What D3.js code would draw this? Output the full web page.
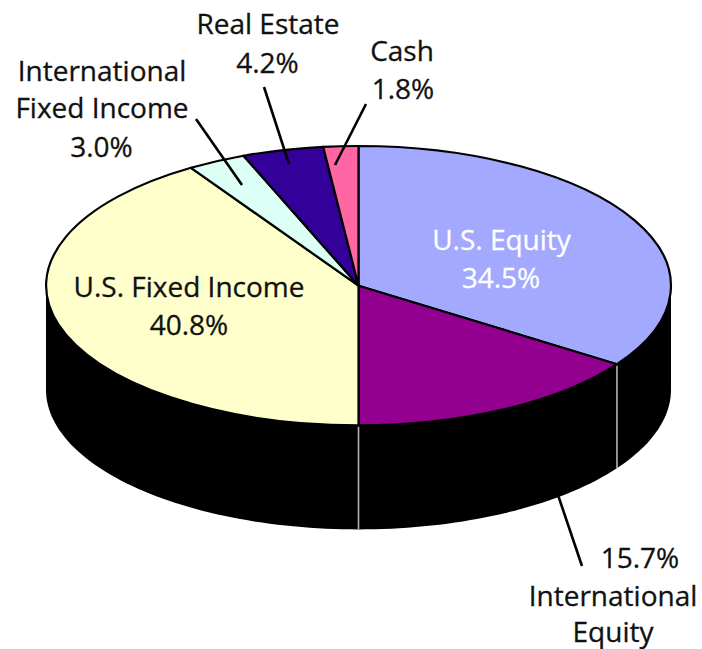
<!DOCTYPE html>
<html><head><meta charset="utf-8">
<script src="https://cdn.jsdelivr.net/npm/d3@7/dist/d3.min.js"></script>
<style>html,body{margin:0;padding:0;background:#fff}svg{display:block}
text{font-family:"Open Sans",sans-serif;font-size:28px;text-anchor:middle;stroke-width:.3px}</style>
</head><body><svg id="c" width="702" height="649"></svg>
<script>
const categories=["U.S. Equity","International Equity","U.S. Fixed Income","International Fixed Income","Real Estate","Cash"];
// Printed percentages appear in the labels; these are the slice sizes as drawn in the picture.
const drawnShares=[34.5,15.5,41.0,3.0,4.2,1.8];
const colors=["#a3a9ff","#93008f","#ffffcc","#dcfff6","#330099","#ff66a3"];
const cx=358.5,cy=285.7,rx=312.5,ry=139.7,depth=104;
const svg=d3.select("#c");
const pie=d3.pie().sort(null).value(d=>d)(drawnShares);
const arc=d3.arc().innerRadius(0).outerRadius(1);
const rimAngles=[pie[0].endAngle,pie[1].endAngle];

// side wall
const lower=d3.range(0,1.0001,1/120).map(t=>{const a=Math.PI*1.5-t*Math.PI;return [cx+rx*Math.sin(a),cy+depth-ry*Math.cos(a)]});
const wall=[[cx-rx,cy],...lower,[cx+rx,cy]];
svg.append("path").attr("d",d3.line()(wall)+"Z").attr("fill","#000");

// rim dividers
svg.selectAll("line.rim").data(rimAngles).join("line").attr("class","rim")
 .attr("x1",a=>cx+rx*Math.sin(a)).attr("x2",a=>cx+rx*Math.sin(a))
 .attr("y1",a=>cy-ry*Math.cos(a)+1).attr("y2",a=>cy-ry*Math.cos(a)+depth)
 .attr("stroke","#b4b4b4").attr("stroke-width",1.6);

// top face
const face=svg.append("g").attr("transform",`translate(${cx},${cy}) scale(${rx},${ry})`);
face.selectAll("path").data(pie).join("path").attr("d",arc)
 .attr("fill",(d,i)=>colors[i]).attr("stroke","#000").attr("stroke-width",2.2)
 .attr("stroke-linejoin","round").attr("vector-effect","non-scaling-stroke");

// leaders
const leaders=[[264,87,289,164],[366,104,335,165],[196,119,242,185],[558,495,582,566]];
svg.selectAll("line.lead").data(leaders).join("line").attr("class","lead")
 .attr("x1",d=>d[0]).attr("y1",d=>d[1]).attr("x2",d=>d[2]).attr("y2",d=>d[3])
 .attr("stroke","#000").attr("stroke-width",2.6);

// labels
const labelLines=[
 {x:501.5,y:250,t:"U.S. Equity",c:"#fff"},{x:501,y:288,t:"34.5%",c:"#fff"},
 {x:189,y:297,t:"U.S. Fixed Income"},{x:189,y:335,t:"40.8%"},
 {x:268,y:34,t:"Real Estate"},{x:267.5,y:73,t:"4.2%"},
 {x:402,y:61,t:"Cash"},{x:403,y:99,t:"1.8%"},
 {x:102,y:81,t:"International"},{x:102,y:118,t:"Fixed Income"},{x:101.5,y:157,t:"3.0%"},
 {x:640,y:568,t:"15.7%"},{x:613,y:606,t:"International"},{x:613,y:642,t:"Equity"}];
svg.selectAll("text").data(labelLines).join("text")
 .attr("x",d=>d.x).attr("y",d=>d.y).attr("fill",d=>d.c||"#111").attr("stroke",d=>d.c||"#111").text(d=>d.t);
</script></body></html>
